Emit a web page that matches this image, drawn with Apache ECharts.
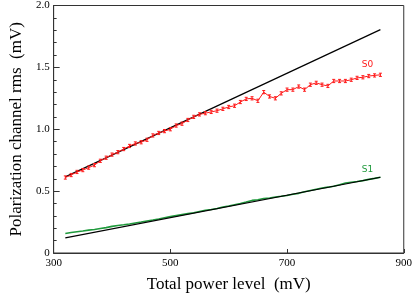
<!DOCTYPE html>
<html><head><meta charset="utf-8">
<script src="https://cdn.jsdelivr.net/npm/echarts@6/dist/echarts.min.js"></script>
<style>html,body{margin:0;padding:0;background:#fff}#c{width:415px;height:298px}</style>
</head><body><div id="c"></div>
<script>
const xValues = [320,330,340,350,360,370,380,390,400,410,420,430,440,450,460,470,480,490,500,510,520,530,540,550,560,570,580,590,600,610,620,630,640,650,660,670,680,690,700,710,720,730,740,750,760,770,780,790,800,810,820,830,840,850,860];
const s0Values = [0.61,0.63,0.655,0.67,0.69,0.71,0.745,0.77,0.795,0.815,0.84,0.865,0.885,0.895,0.915,0.95,0.97,0.985,1.00,1.03,1.045,1.075,1.10,1.12,1.13,1.14,1.15,1.165,1.18,1.19,1.22,1.245,1.25,1.23,1.30,1.265,1.25,1.29,1.32,1.32,1.345,1.32,1.36,1.375,1.36,1.35,1.39,1.39,1.39,1.40,1.415,1.42,1.43,1.435,1.44];
const s1Values = [0.158,0.165,0.172,0.178,0.185,0.19,0.198,0.205,0.215,0.222,0.228,0.235,0.243,0.25,0.258,0.266,0.275,0.285,0.294,0.302,0.31,0.318,0.325,0.335,0.345,0.352,0.36,0.372,0.38,0.39,0.40,0.412,0.425,0.43,0.44,0.445,0.452,0.458,0.465,0.475,0.482,0.495,0.505,0.515,0.525,0.532,0.54,0.552,0.565,0.572,0.578,0.585,0.595,0.603,0.612];
const s0Err = 0.013;
const fitX = [320, 860];
const s0Fit = [0.615, 1.805];
const s1Fit = [0.122, 0.612];
const xTicks = [300, 500, 700, 900];
const yTicks = [0, 0.5, 1.0, 1.5, 2.0];
const labelS0 = {name: 'S0', x: 838, y: 1.52};
const labelS1 = {name: 'S1', x: 838, y: 0.67};

const RED = '#ff1a1a', GREEN = '#1f9a3c';
const chart = echarts.init(document.getElementById('c'), null, {renderer: 'canvas'});
const zip = (xs, ys) => xs.map((x, i) => [x, ys[i]]);

chart.setOption({
  animation: false,
  backgroundColor: '#fff',
  grid: {left: 43, right: 11, top: 4, bottom: 38, show: true, borderColor: '#333', borderWidth: 1},
  xAxis: {
    type: 'value', min: 300, max: 900, interval: 200,
    axisLine: {show: true, lineStyle: {color: '#333', width: 1}},
    axisTick: {inside: true, length: 4, lineStyle: {color: '#333'}},
    axisLabel: {margin: 5, fontFamily: 'Liberation Serif', fontSize: 11, color: '#000',
      formatter: v => xTicks.includes(v) ? String(v) : ''},
    splitLine: {show: false},
    name: 'Total power level  (mV)', nameLocation: 'middle', nameGap: 23,
    nameTextStyle: {fontFamily: 'Liberation Serif', fontSize: 17, color: '#000'}
  },
  yAxis: {
    type: 'value', min: 0, max: 2, interval: 0.5,
    axisLine: {show: true, lineStyle: {color: '#333', width: 1}},
    axisTick: {inside: true, length: 6, lineStyle: {color: '#333'}},
    minorTick: {show: true, splitNumber: 5, length: 3, lineStyle: {color: '#333'}},
    axisLabel: {margin: 4, fontFamily: 'Liberation Serif', fontSize: 11, color: '#000',
      formatter: v => v === 0 ? '0' : v.toFixed(1)},
    splitLine: {show: false},
    name: 'Polarization channel rms  (mV)', nameLocation: 'middle', nameGap: 24,
    nameTextStyle: {fontFamily: 'Liberation Serif', fontSize: 17, color: '#000'}
  },
  series: [
    {type: 'line', data: zip(fitX, s0Fit), symbol: 'none', lineStyle: {color: '#000', width: 1.2}, z: 3},
    {type: 'line', data: zip(xValues, s0Values), symbol: 'none', lineStyle: {color: RED, width: 1}, z: 4,
      markPoint: {symbolSize: 0, data: [{coord: [labelS0.x, labelS0.y], value: labelS0.name}],
        label: {show: true, formatter: labelS0.name, color: RED, fontFamily: 'DejaVu Sans', fontSize: 9}}},
    {type: 'custom', z: 4, data: zip(xValues, s0Values),
      renderItem: (params, api) => {
        const x = api.value(0), y = api.value(1);
        const top = api.coord([x, y + s0Err]);
        const bot = api.coord([x, y - s0Err]);
        const w = 1.5;
        const st = {stroke: RED, lineWidth: 1};
        return {type: 'group', children: [
          {type: 'line', shape: {x1: top[0], y1: top[1], x2: bot[0], y2: bot[1]}, style: st},
          {type: 'line', shape: {x1: top[0]-w, y1: top[1], x2: top[0]+w, y2: top[1]}, style: st},
          {type: 'line', shape: {x1: bot[0]-w, y1: bot[1], x2: bot[0]+w, y2: bot[1]}, style: st}
        ]};
      }},
    {type: 'line', data: zip(xValues, s1Values), symbol: 'none', lineStyle: {color: GREEN, width: 1.6}, z: 3,
      markPoint: {symbolSize: 0, data: [{coord: [labelS1.x, labelS1.y], value: labelS1.name}],
        label: {show: true, formatter: labelS1.name, color: GREEN, fontFamily: 'DejaVu Sans', fontSize: 9}}},
    {type: 'line', data: zip(fitX, s1Fit), symbol: 'none', lineStyle: {color: '#000', width: 1.2}, z: 5}
  ]
});
</script></body></html>
